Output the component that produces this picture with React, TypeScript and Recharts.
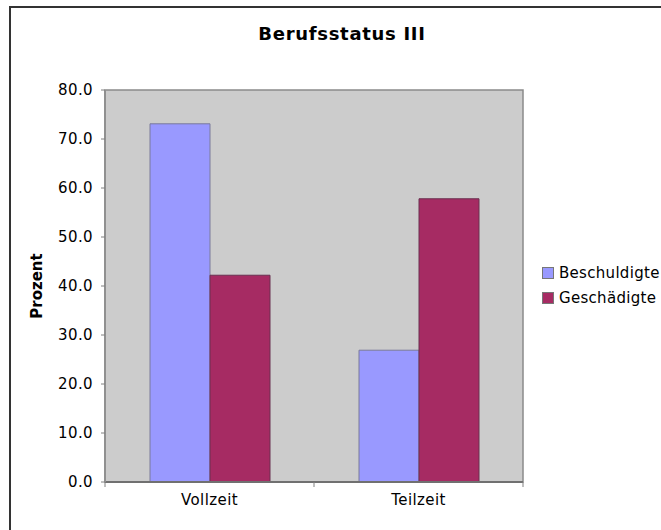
import React from 'react';
import { BarChart, Bar, XAxis, YAxis, CartesianGrid, Legend, ReferenceArea } from 'recharts';

// Werte (Prozent)
const categories = ['Vollzeit', 'Teilzeit'];
const beschuldigte = [73.1, 26.9];
const geschaedigte = [42.2, 57.8];
const yTicks = [0, 10, 20, 30, 40, 50, 60, 70, 80];

const FONT = '"DejaVu Sans", Verdana, sans-serif';
const BLUE = '#9999ff';
const WINE = '#a62b63';

const data = categories.map((name, i) => ({
  name,
  Beschuldigte: beschuldigte[i],
  Geschädigte: geschaedigte[i],
}));

// Kategorie-Beschriftung mit Teilstrichen an den Kategoriegrenzen (wie Excel)
const CategoryTick = ({ x, y, payload, index, visibleTicksCount }: any) => {
  const half = payload?.offset ?? 0;
  const left = x - half;
  const right = x + half;
  const isLast = index === (visibleTicksCount ?? categories.length) - 1;
  return (
    <g>
      <line x1={left} x2={left} y1={y - 12} y2={y - 7} stroke="#808080" />
      {isLast && <line x1={right} x2={right} y1={y - 12} y2={y - 7} stroke="#808080" />}
      <text x={x} y={y} dy="0.71em" textAnchor="middle" fill="#000" fontSize={15} letterSpacing={0.4}>
        {payload.value}
      </text>
    </g>
  );
};

// Legende als einfache Liste, Text schwarz
const LegendContent = ({ payload }: any) => (
  <ul style={{ listStyle: 'none', margin: 0, padding: 0 }}>
    {(payload || []).map((entry: any) => (
      <li key={entry.value} style={{ display: 'flex', alignItems: 'center', height: 25 }}>
        <span
          style={{
            display: 'inline-block',
            width: 10,
            height: 10,
            background: entry.color,
            border: '1px solid #777',
            marginRight: 5,
          }}
        />
        <span style={{ color: '#000', fontSize: 15, letterSpacing: 0.3 }}>{entry.value}</span>
      </li>
    ))}
  </ul>
);

export default function App() {
  return (
    <div
      style={{
        position: 'fixed',
        left: 0,
        top: 0,
        width: 661,
        height: 530,
        overflow: 'hidden',
        background: '#fff',
        fontFamily: FONT,
      }}
    >
      {/* Rahmen des Diagrammbereichs */}
      <div
        style={{
          position: 'absolute',
          left: 9,
          top: 6,
          width: 700,
          height: 600,
          border: '2px solid #333',
        }}
      />
      <div
        style={{
          position: 'absolute',
          left: 0,
          top: 23,
          width: 684,
          textAlign: 'center',
          fontSize: 18,
          lineHeight: '21px',
          fontWeight: 'bold',
          letterSpacing: 0.7,
          color: '#000',
        }}
      >
        Berufsstatus III
      </div>
      <div style={{ position: 'absolute', left: 0, top: 0 }}>
        <BarChart
          width={661}
          height={530}
          data={data}
          margin={{ top: 90, right: 138, bottom: 18, left: 0 }}
          barCategoryGap={45}
          barGap={0}
          style={{ fontFamily: FONT }}
        >
          <CartesianGrid fill="#cccccc" horizontal={false} vertical={false} />
          <XAxis
            dataKey="name"
            height={30}
            tickLine={false}
            tickSize={0}
            tickMargin={12}
            axisLine={{ stroke: '#707070', strokeWidth: 2 }}
            tick={<CategoryTick />}
          />
          <YAxis
            width={105}
            domain={[0, 80]}
            ticks={yTicks}
            tickFormatter={(v: number) => v.toFixed(1)}
            tickSize={4}
            tickMargin={8}
            tickLine={{ stroke: '#808080' }}
            axisLine={{ stroke: '#909090', strokeWidth: 2 }}
            tick={{ fill: '#000', fontSize: 15, letterSpacing: 0.4 }}
            label={{
              value: 'Prozent',
              angle: -90,
              position: 'insideLeft',
              offset: 37,
              style: { textAnchor: 'middle', fontWeight: 'bold', fontSize: 15, fill: '#000' },
            }}
          />
          <Bar
            dataKey="Beschuldigte"
            fill={BLUE}
            stroke="#7a7a9a"
            strokeWidth={1}
            isAnimationActive={false}
          />
          <Bar
            dataKey="Geschädigte"
            fill={WINE}
            stroke="#6a3050"
            strokeWidth={1}
            isAnimationActive={false}
          />
          <ReferenceArea
            y1={0}
            y2={80}
            fill="none"
            stroke="#8a8a8a"
            strokeWidth={1.5}
            ifOverflow="visible"
          />
          <Legend
            layout="vertical"
            align="center"
            verticalAlign="middle"
            content={<LegendContent />}
            wrapperStyle={{ left: 542, top: 260, width: 130 }}
          />
        </BarChart>
      </div>
    </div>
  );
}
